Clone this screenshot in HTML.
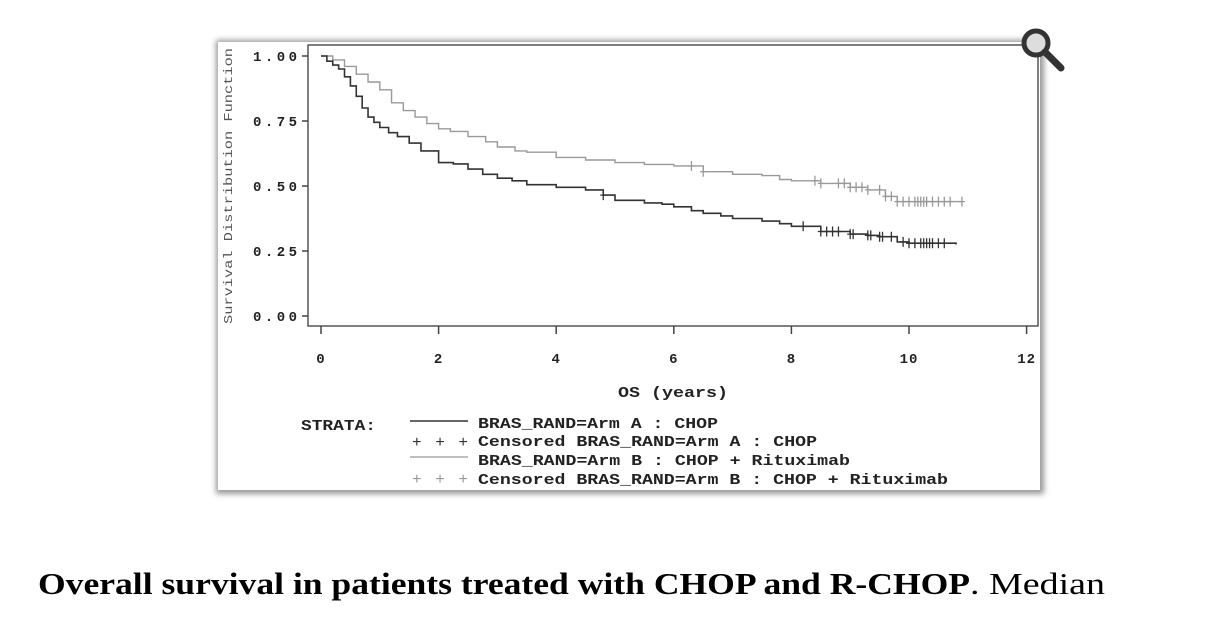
<!DOCTYPE html>
<html><head><meta charset="utf-8"><style>
html,body{margin:0;padding:0;background:#fff;width:1213px;height:619px;overflow:hidden}
svg{display:block}
.mono{font-family:"Liberation Mono",monospace;font-weight:bold;fill:#222}
</style></head><body>
<svg id="chart" width="1213" height="619" viewBox="0 0 1213 619">
<defs><filter id="sh" x="-5%" y="-5%" width="110%" height="110%"><feGaussianBlur stdDeviation="3"/></filter></defs>
<rect x="216" y="40" width="828" height="454" fill="#999" filter="url(#sh)"/>
<rect x="218" y="42" width="822" height="448" fill="#fff"/>
<rect x="308" y="45" width="730" height="281" fill="none" stroke="#555" stroke-width="1.5"/>
<g><circle cx="1036" cy="43" r="12" fill="#ddd" stroke="#333" stroke-width="5"/><line x1="1045" y1="52" x2="1061" y2="68" stroke="#333" stroke-width="7" stroke-linecap="round"/></g>
<text class="mono" transform="translate(232,186) rotate(-90)" text-anchor="middle" font-size="12" textLength="276" lengthAdjust="spacingAndGlyphs" style="font-weight:normal;fill:#555">Survival Distribution Function</text>
<text class="mono" x="618" y="397" font-size="15" textLength="110" lengthAdjust="spacingAndGlyphs">OS (years)</text>
<g id="axes"></g>
<g id="series"></g>
<g>
<text class="mono" x="301" y="430" font-size="15" textLength="75" lengthAdjust="spacingAndGlyphs">STRATA:</text>
<line x1="410" y1="421" x2="468" y2="421" stroke="#333" stroke-width="1.5"/>
<text class="mono" x="478" y="428" font-size="15" textLength="240" lengthAdjust="spacingAndGlyphs">BRAS_RAND=Arm A : CHOP</text>
<text class="mono" x="412" y="447" font-size="16" style="fill:#333;font-weight:normal" textLength="56">+ + +</text>
<text class="mono" x="478" y="446" font-size="15" textLength="339" lengthAdjust="spacingAndGlyphs">Censored BRAS_RAND=Arm A : CHOP</text>
<line x1="410" y1="457" x2="468" y2="457" stroke="#999" stroke-width="1.3"/>
<text class="mono" x="478" y="465" font-size="15" textLength="372" lengthAdjust="spacingAndGlyphs">BRAS_RAND=Arm B : CHOP + Rituximab</text>
<text class="mono" x="412" y="484" font-size="16" style="fill:#999;font-weight:normal" textLength="56">+ + +</text>
<text class="mono" x="478" y="484" font-size="15" textLength="470" lengthAdjust="spacingAndGlyphs">Censored BRAS_RAND=Arm B : CHOP + Rituximab</text>
</g>
<text x="38" y="594" font-family="'Liberation Serif',serif" font-size="31"><tspan font-weight="bold" textLength="932" lengthAdjust="spacingAndGlyphs">Overall survival in patients treated with CHOP and R-CHOP</tspan><tspan textLength="135" lengthAdjust="spacingAndGlyphs">. Median</tspan></text>
</svg>
<script>
const xTicks=[0,2,4,6,8,10,12];
const yTicks=[0,0.25,0.5,0.75,1];
const yTickLabels=["0.00","0.25","0.50","0.75","1.00"];
const armATimes=[0,0.1,0.2,0.3,0.4,0.5,0.6,0.7,0.8,0.9,1.0,1.15,1.3,1.5,1.7,2,2.25,2.5,2.75,3,3.25,3.5,4,4.5,4.8,5,5.5,5.8,6,6.3,6.5,6.8,7,7.5,7.8,8,8.5,9,9.3,9.5,9.8,10,10.8];
const armASurv=[1,0.98,0.965,0.95,0.92,0.885,0.845,0.8,0.765,0.745,0.725,0.705,0.69,0.665,0.635,0.59,0.585,0.565,0.545,0.53,0.52,0.505,0.495,0.485,0.465,0.445,0.435,0.43,0.42,0.405,0.395,0.385,0.375,0.365,0.355,0.345,0.325,0.315,0.31,0.305,0.285,0.28,0.275];
const armBTimes=[0,0.2,0.4,0.6,0.8,1.0,1.2,1.4,1.6,1.8,2,2.2,2.5,2.8,3,3.3,3.5,4,4.5,5,5.5,6,6.5,7,7.5,7.8,8,8.5,9,9.3,9.6,9.8,10.9];
const armBSurv=[1,0.985,0.96,0.93,0.9,0.87,0.82,0.79,0.765,0.74,0.72,0.71,0.69,0.67,0.65,0.635,0.63,0.61,0.6,0.59,0.583,0.577,0.555,0.545,0.54,0.525,0.52,0.51,0.495,0.485,0.46,0.44,0.44];
const armACensor=[4.8,8.2,8.5,8.6,8.7,8.8,9.0,9.05,9.3,9.35,9.5,9.55,9.7,9.9,10.0,10.1,10.2,10.25,10.3,10.35,10.4,10.5,10.6];
const armBCensor=[6.3,6.5,8.4,8.5,8.8,8.9,9.0,9.1,9.2,9.3,9.5,9.6,9.7,9.8,9.9,10.0,10.1,10.15,10.2,10.25,10.3,10.4,10.5,10.6,10.7,10.9];
const NS='http://www.w3.org/2000/svg';
const X=t=>321+t*58.8, Y=s=>316-s*260;
function mk(tag,attrs,parent){const e=document.createElementNS(NS,tag);for(const k in attrs)e.setAttribute(k,attrs[k]);parent.appendChild(e);return e;}
const ax=document.getElementById('axes'), se=document.getElementById('series');
xTicks.forEach(t=>{
  const l=mk('line',{x1:X(t),x2:X(t),y1:326,y2:334,stroke:'#444','stroke-width':1.5},ax);
  
  
  const tx=mk('text',{x:X(t),y:363,'text-anchor':'middle','font-size':14,'letter-spacing':1,class:'mono'},ax);
  tx.textContent=t;
  
  
});
yTicks.forEach((v,i)=>{
  const l=mk('line',{x1:302,x2:308,y1:Y(v),y2:Y(v),stroke:'#444','stroke-width':1.5},ax);
  
  
  const tx=mk('text',{x:253,y:Y(v)+5,'font-size':14,textLength:44,lengthAdjust:'spacing',class:'mono'},ax);
  tx.textContent=yTickLabels[i];
  
  
});
function stepAt(ts,ss,t){let s=ss[0];for(let i=0;i<ts.length;i++){if(ts[i]<=t)s=ss[i];}return s;}
function drawArm(ts,ss,cs,color,w,name){
  let d='M'+X(ts[0])+','+Y(ss[0]);
  for(let i=1;i<ts.length;i++){d+='H'+X(ts[i])+'V'+Y(ss[i]);}
  const p=mk('path',{d:d,fill:'none',stroke:color,'stroke-width':w},se);
  
  
  cs.forEach(t=>{
    const s=stepAt(ts,ss,t);
    const m=mk('path',{d:'M'+X(t)+','+(Y(s)-5)+'v10M'+(X(t)-3)+','+Y(s)+'h6',stroke:color,'stroke-width':1.3,fill:'none'},se);
    
    
  });
}
drawArm(armBTimes,armBSurv,armBCensor,'#999',1.4,'arm-b');
drawArm(armATimes,armASurv,armACensor,'#333',1.6,'arm-a');
</script>
</body></html>
